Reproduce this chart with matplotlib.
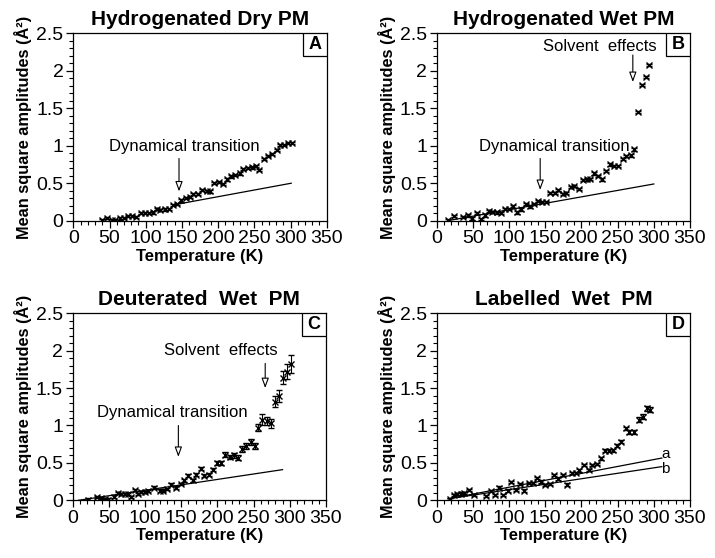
import numpy as np
import matplotlib
matplotlib.use("Agg")
import matplotlib.pyplot as plt
from matplotlib.ticker import MultipleLocator, FormatStrFormatter
from matplotlib.patches import Rectangle

plt.rcParams['font.family'] = ['Liberation Sans', 'DejaVu Sans']

# --- DATA ---
# Panel A: hydrogenated dry PM
temp_a = [39, 46, 53, 58, 64, 70, 76, 81, 87, 93, 99, 104, 110, 115, 120, 126, 132, 138, 143,
          149, 155, 161, 166, 172, 178, 184, 189, 195, 201, 207, 212, 218, 224, 230, 235, 241,
          247, 253, 257, 264, 269, 275, 281, 286, 291, 297, 302]
msd_a = [0.01, 0.04, 0.01, 0.01, 0.03, 0.04, 0.06, 0.06, 0.05, 0.10, 0.10, 0.10, 0.11, 0.16, 0.14,
         0.15, 0.16, 0.21, 0.22, 0.27, 0.30, 0.32, 0.36, 0.36, 0.41, 0.40, 0.39, 0.50, 0.52, 0.49,
         0.55, 0.59, 0.61, 0.63, 0.69, 0.70, 0.71, 0.73, 0.68, 0.82, 0.86, 0.89, 0.94, 1.01, 1.01,
         1.04, 1.04]
err_a = 0.015
fit_a_t = [138, 301]
fit_a_v = [0.21, 0.50]

# Panel B: hydrogenated wet PM
temp_b = [16, 24, 37, 43, 49, 55, 61, 67, 72, 77, 83, 89, 95, 100, 106, 111, 117, 123, 129, 134,
          140, 146, 151, 157, 163, 168, 174, 179, 185, 190, 196, 202, 207, 212, 218, 223, 228,
          234, 239, 245, 251, 257, 262, 268, 272, 278, 283, 289, 294]
msd_b = [0.01, 0.06, 0.05, 0.07, 0.03, 0.10, 0.02, 0.07, 0.13, 0.12, 0.11, 0.10, 0.16, 0.16, 0.19,
         0.11, 0.15, 0.22, 0.19, 0.22, 0.26, 0.25, 0.25, 0.37, 0.37, 0.41, 0.36, 0.37, 0.45, 0.46,
         0.42, 0.54, 0.55, 0.56, 0.63, 0.60, 0.55, 0.66, 0.75, 0.73, 0.73, 0.82, 0.86, 0.87, 0.95,
         1.45, 1.81, 1.92, 2.08]
err_b = 0.015
fit_b_t = [15, 300]
fit_b_v = [0.0, 0.49]

# Panel C: deuterated wet PM
temp_c = [21, 33, 39, 44, 49, 57, 63, 67, 72, 77, 81, 86, 90, 95, 100, 104, 113, 120, 125, 130,
          136, 143, 149, 154, 160, 166, 171, 177, 182, 189, 194, 200, 205, 211, 217, 223, 228,
          234, 240, 246, 252, 256, 262, 268, 274, 279, 285, 290, 296, 302]
msd_c = [0.01, 0.04, 0.03, 0.02, 0.01, 0.05, 0.10, 0.08, 0.08, 0.08, 0.04, 0.14, 0.08, 0.11, 0.11,
         0.12, 0.17, 0.13, 0.13, 0.15, 0.21, 0.17, 0.22, 0.27, 0.33, 0.27, 0.34, 0.42, 0.33, 0.34,
         0.41, 0.50, 0.50, 0.61, 0.58, 0.60, 0.57, 0.68, 0.72, 0.78, 0.73, 0.97, 1.08, 1.06, 1.03,
         1.32, 1.39, 1.64, 1.72, 1.82]
err_c = [0.015, 0.015, 0.015, 0.015, 0.015, 0.015, 0.015, 0.015, 0.015, 0.015, 0.015, 0.015,
         0.015, 0.015, 0.015, 0.015, 0.015, 0.015, 0.015, 0.015, 0.015, 0.015, 0.015, 0.02, 0.02,
         0.02, 0.02, 0.02, 0.02, 0.02, 0.02, 0.03, 0.03, 0.03, 0.03, 0.03, 0.03, 0.04, 0.04, 0.04,
         0.04, 0.05, 0.07, 0.05, 0.06, 0.07, 0.08, 0.09, 0.10, 0.12]
fit_c_t = [8, 290]
fit_c_v = [0.0, 0.41]

# Panel D: labelled wet PM
temp_d = [18, 24, 28, 33, 38, 45, 51, 68, 75, 81, 86, 92, 98, 103, 109, 115, 121, 127, 133, 139,
          144, 150, 156, 162, 168, 174, 180, 187, 192, 197, 204, 210, 215, 221, 227, 233, 238,
          244, 249, 255, 261, 266, 273, 279, 285, 291, 295]
msd_d = [0.02, 0.07, 0.08, 0.09, 0.10, 0.14, 0.07, 0.06, 0.12, 0.07, 0.17, 0.07, 0.13, 0.24, 0.14,
         0.22, 0.13, 0.23, 0.23, 0.30, 0.25, 0.20, 0.22, 0.34, 0.29, 0.34, 0.21, 0.37, 0.37, 0.40,
         0.47, 0.41, 0.47, 0.49, 0.56, 0.66, 0.66, 0.67, 0.73, 0.78, 0.96, 0.91, 0.91, 1.08, 1.12,
         1.23, 1.21]
err_d = [0.015, 0.015, 0.015, 0.015, 0.015, 0.015, 0.015, 0.015, 0.015, 0.015, 0.015, 0.015,
         0.015, 0.015, 0.015, 0.015, 0.015, 0.015, 0.015, 0.015, 0.015, 0.015, 0.015, 0.015,
         0.015, 0.015, 0.015, 0.015, 0.015, 0.015, 0.015, 0.015, 0.015, 0.015, 0.015, 0.02, 0.02,
         0.02, 0.02, 0.02, 0.025, 0.025, 0.025, 0.03, 0.03, 0.035, 0.035]
fit_da_t = [16, 311]
fit_da_v = [0.02, 0.565]
fit_db_t = [16, 311]
fit_db_v = [0.02, 0.45]

titles = ["Hydrogenated Dry PM", "Hydrogenated Wet PM", "Deuterated  Wet  PM", "Labelled  Wet  PM"]
letters = ["A", "B", "C", "D"]

# axes rectangles in figure fractions (715 x 558 px)
W, H = 715.0, 558.0
boxes = [(73.3, 33.3, 326.7, 220.7), (436.7, 33.3, 690.0, 220.7),
         (72.7, 313.3, 326.0, 500.3), (436.7, 313.3, 690.0, 500.3)]

fig = plt.figure(figsize=(7.15, 5.58), dpi=100)
axes = []
for (l, t, r, b) in boxes:
    axes.append(fig.add_axes([l / W, 1 - b / H, (r - l) / W, (b - t) / H]))

ebkw = dict(fmt='x', color='black', ms=4.5, mew=1.0, elinewidth=0.8, capsize=2, capthick=0.8)


def arrow(ax, x, y0, y1):
    ax.annotate('', xy=(x, y1), xytext=(x, y0),
                arrowprops=dict(arrowstyle='-|>,head_length=0.6,head_width=0.22',
                                fc='white', ec='black', lw=0.8, shrinkA=0, shrinkB=0))


for i, ax in enumerate(axes):
    ax.set_xlim(0, 350)
    ax.set_ylim(0, 2.5)
    ax.xaxis.set_major_locator(MultipleLocator(50))
    ax.xaxis.set_minor_locator(MultipleLocator(10))
    ax.yaxis.set_major_locator(MultipleLocator(0.5))
    ax.yaxis.set_minor_locator(MultipleLocator(0.1))
    ax.yaxis.set_major_formatter(FormatStrFormatter('%g'))
    ax.tick_params(which='major', direction='out', length=5, width=0.9, labelsize=14, pad=2)
    ax.tick_params(which='minor', direction='out', length=3, width=0.8)
    for s in ax.spines.values():
        s.set_linewidth(0.9)
    ax.set_title(titles[i], fontsize=15, fontweight='bold', pad=6)
    ax.set_xlabel("Temperature (K)", fontsize=12, fontweight='bold', labelpad=1)
    ax.set_ylabel("Mean square amplitudes (Å²)", fontsize=11.8, fontweight='bold', labelpad=3)
    # panel letter box in the top right corner
    ax.add_patch(Rectangle((1 - 0.095, 1 - 0.123), 0.095, 0.123, transform=ax.transAxes,
                           fc='white', ec='black', lw=0.9, zorder=5))
    ax.text(1 - 0.0475, 1 - 0.0615, letters[i], transform=ax.transAxes, ha='center',
            va='center', fontsize=13, fontweight='bold', zorder=6)

ax = axes[0]
ax.errorbar(temp_a, msd_a, yerr=err_a, **ebkw)
ax.plot(fit_a_t, fit_a_v, color='black', lw=0.9)
ax.text(154, 0.99, "Dynamical transition", ha='center', va='center', fontsize=12)
arrow(ax, 146, 0.83, 0.39)

ax = axes[1]
ax.errorbar(temp_b, msd_b, yerr=err_b, **ebkw)
ax.plot(fit_b_t, fit_b_v, color='black', lw=0.9)
ax.text(162, 0.99, "Dynamical transition", ha='center', va='center', fontsize=12)
arrow(ax, 143, 0.83, 0.41)
ax.text(225, 2.32, "Solvent  effects", ha='center', va='center', fontsize=12)
arrow(ax, 271, 2.21, 1.85)

ax = axes[2]
ax.errorbar(temp_c, msd_c, yerr=err_c, **ebkw)
ax.plot(fit_c_t, fit_c_v, color='black', lw=0.9)
ax.text(137, 1.18, "Dynamical transition", ha='center', va='center', fontsize=12)
arrow(ax, 146, 1.0, 0.58)
ax.text(204, 2.0, "Solvent  effects", ha='center', va='center', fontsize=12)
arrow(ax, 266, 1.83, 1.5)

ax = axes[3]
ax.errorbar(temp_d, msd_d, yerr=err_d, **ebkw)
ax.plot(fit_da_t, fit_da_v, color='black', lw=0.9)
ax.plot(fit_db_t, fit_db_v, color='black', lw=0.9)
ax.text(316, 0.62, "a", ha='center', va='center', fontsize=11)
ax.text(316, 0.42, "b", ha='center', va='center', fontsize=11)

fig.savefig("out.png", dpi=100)
